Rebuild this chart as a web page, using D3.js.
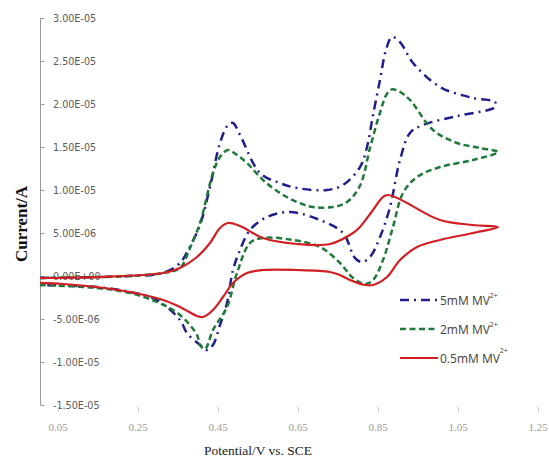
<!DOCTYPE html>
<html>
<head>
<meta charset="utf-8">
<script src="https://cdn.jsdelivr.net/npm/d3@7"></script>
<style>
  body { margin: 0; background: #fff; }
  svg { display: block; }
</style>
</head>
<body>
<svg id="chart"></svg>
<script>
// ----------------------------------------
//  Data  (potential in V, current in uA)
// ----------------------------------------

var xTicks = [0.05, 0.25, 0.45, 0.65, 0.85, 1.05, 1.25];
var yTicks = [30, 25, 20, 15, 10, 5, 0, -5, -10, -15];

var seriesNames = ["5mM MV", "2mM MV", "0.5mM MV"];

// 5mM: forward scan then return scan
var mv5 = [
  [0.005, -0.23], [0.1475, -0.12], [0.23, 0.0], [0.3125, 0.35], [0.355, 1.51],
  [0.375, 3.0], [0.405, 5.93], [0.43, 10.35], [0.455, 15.47], [0.475, 17.56],
  [0.4875, 17.79], [0.505, 16.4], [0.555, 11.98], [0.605, 10.8], [0.6475, 10.23],
  [0.7225, 10.0], [0.7625, 10.58], [0.805, 12.67], [0.8225, 15.0], [0.8375, 18.7],
  [0.855, 22.8], [0.87, 26.3], [0.885, 27.79], [0.905, 27.2], [0.9375, 24.77],
  [1.005, 21.98], [1.0875, 20.7], [1.1425, 20.23],
  [1.1425, 19.65], [1.0475, 18.6], [0.9625, 17.56], [0.93, 16.63], [0.905, 13.49],
  [0.88, 8.02], [0.855, 4.53], [0.83, 2.21], [0.81, 1.63], [0.7925, 2.09],
  [0.7625, 5.0], [0.705, 6.51], [0.63, 7.44], [0.5725, 6.86], [0.53, 5.35],
  [0.505, 3.02], [0.4875, 0.7], [0.4725, -3.14], [0.455, -5.7], [0.4375, -8.02],
  [0.4225, -8.6], [0.405, -8.02], [0.3725, -6.63], [0.355, -5.12], [0.2975, -2.79],
  [0.23, -1.86], [0.1475, -1.28], [0.005, -1.05]
];

var mv2 = [
  [0.005, -0.23], [0.1475, -0.12], [0.23, 0.0], [0.3125, 0.35], [0.355, 0.93],
  [0.38, 3.26], [0.405, 6.16], [0.4375, 11.98], [0.455, 13.84], [0.475, 14.65],
  [0.4975, 14.07], [0.5225, 13.14], [0.5625, 11.16], [0.605, 9.65], [0.6475, 8.6],
  [0.6875, 8.02], [0.7375, 8.02], [0.7725, 8.6], [0.805, 10.5], [0.83, 14.9],
  [0.855, 19.0], [0.8725, 21.2], [0.885, 21.7], [0.905, 21.4], [0.93, 20.47],
  [0.9875, 16.98], [1.0475, 15.47], [1.105, 14.88], [1.15, 14.42],
  [1.0875, 13.49], [1.005, 12.67], [0.9475, 11.51], [0.9125, 9.65], [0.8875, 5.7],
  [0.8625, 1.86], [0.8375, -0.47], [0.8175, -0.93], [0.7875, -0.23], [0.755, 1.51],
  [0.705, 3.37], [0.6375, 4.19], [0.5625, 4.42], [0.53, 3.84], [0.4975, 0.35],
  [0.4725, -3.6], [0.4375, -6.28], [0.4175, -8.49], [0.405, -8.02], [0.3975, -6.86],
  [0.355, -4.53], [0.2975, -3.02], [0.23, -1.98], [0.1475, -1.4], [0.005, -1.05]
];

var mv05 = [
  [0.005, -0.23], [0.1475, -0.12], [0.3125, 0.35], [0.355, 0.93], [0.3975, 2.21],
  [0.43, 3.84], [0.455, 5.58], [0.475, 6.16], [0.505, 5.81], [0.5625, 4.42],
  [0.6475, 3.72], [0.73, 3.72], [0.7875, 5.0], [0.805, 5.7], [0.8375, 7.67],
  [0.8625, 9.19], [0.875, 9.42], [0.8925, 9.19], [0.9225, 8.49], [1.005, 6.51],
  [1.0875, 5.93], [1.15, 5.7],
  [1.0875, 5.0], [1.005, 4.19], [0.9475, 3.37], [0.905, 1.86], [0.8725, -0.12],
  [0.8375, -1.05], [0.8175, -1.05], [0.78, -0.47], [0.755, 0.12], [0.73, 0.47],
  [0.6475, 0.7], [0.5625, 0.7], [0.5225, 0.35], [0.4875, -0.81], [0.4625, -2.44],
  [0.4375, -3.95], [0.4125, -4.77], [0.3975, -4.65], [0.355, -3.6], [0.3125, -2.79],
  [0.23, -1.86], [0.1475, -1.28], [0.0625, -0.93], [0.005, -0.81]
];

var seriesData = [mv5, mv2, mv05];
var seriesColors = ["#221f8c", "#1f7a3a", "#d21f24"];
var seriesDash = ["9,5,2,5", "6,3.5", null];
var seriesWidth = [2.5, 2.5, 2.2];

// ----------------------------------------
//  Sizing
// ----------------------------------------
var width = 549, height = 462;

var svg = d3.select("#chart")
  .attr("width", width)
  .attr("height", height);

var x = d3.scaleLinear().domain([0.05, 1.25]).range([58, 538]);
var y = d3.scaleLinear().domain([-15, 30]).range([405, 18]);

function sci(v) {
  var s = (v * 1e-6).toExponential(2).toUpperCase();
  return s.replace(/E([+-])(\d)$/, "E$10$2");
}

// y axis line + ticks (ticks point inside)
var axisX = 40.5;
svg.append("line")
  .attr("x1", axisX).attr("x2", axisX)
  .attr("y1", y(30)).attr("y2", y(-15))
  .attr("stroke", "#9a9a9a").attr("stroke-width", 1);

svg.selectAll(".ytick").data(yTicks).enter().append("line")
  .attr("x1", axisX).attr("x2", axisX + 4)
  .attr("y1", function(d) { return Math.round(y(d)) + 0.5; })
  .attr("y2", function(d) { return Math.round(y(d)) + 0.5; })
  .attr("stroke", "#9a9a9a");

svg.selectAll(".ylab").data(yTicks).enter().append("text")
  .attr("x", 53)
  .attr("y", function(d) { return y(d) + 3.5; })
  .attr("font-family", "DejaVu Sans, Verdana, sans-serif")
  .attr("font-size", "9.6px")
  .attr("fill", "#5a5a5a")
  .text(sci);

// x ticks (faint, no axis line)
svg.selectAll(".xtick").data(xTicks).enter().append("line")
  .attr("x1", function(d) { return Math.round(x(d)) + 0.5; })
  .attr("x2", function(d) { return Math.round(x(d)) + 0.5; })
  .attr("y1", 407).attr("y2", 412)
  .attr("stroke", "#c8c8c8");

svg.selectAll(".xlab").data(xTicks).enter().append("text")
  .attr("x", function(d) { return x(d); })
  .attr("y", 431)
  .attr("text-anchor", "middle")
  .attr("font-family", "Liberation Serif, serif")
  .attr("font-size", "11px")
  .attr("fill", "#9c9c9c")
  .text(function(d) { return d.toFixed(2); });

// titles
svg.append("text")
  .attr("x", 258).attr("y", 455)
  .attr("text-anchor", "middle")
  .attr("font-family", "Liberation Serif, serif")
  .attr("font-size", "13.5px")
  .attr("fill", "#1a1a1a")
  .text("Potential/V vs. SCE");

svg.append("text")
  .attr("transform", "translate(27,224) rotate(-90)")
  .attr("text-anchor", "middle")
  .attr("font-family", "Liberation Serif, serif")
  .attr("font-weight", "bold")
  .attr("font-size", "17px")
  .attr("fill", "#111")
  .text("Current/A");

// ----------------------------------------
//  Curves
// ----------------------------------------
var line = d3.line()
  .x(function(d) { return x(d[0]); })
  .y(function(d) { return y(d[1]); })
  .curve(d3.curveCatmullRom.alpha(0.5));

svg.selectAll(".cv").data(seriesData).enter().append("path")
  .attr("d", line)
  .attr("fill", "none")
  .attr("stroke", function(d, i) { return seriesColors[i]; })
  .attr("stroke-width", function(d, i) { return seriesWidth[i]; })
  .attr("stroke-dasharray", function(d, i) { return seriesDash[i]; })
  .attr("stroke-linejoin", "round");

// ----------------------------------------
//  Legend
// ----------------------------------------
var legY = [300, 329, 358];
var leg = svg.selectAll(".leg").data(seriesNames).enter().append("g")
  .attr("transform", function(d, i) { return "translate(400," + legY[i] + ")"; });

leg.append("line")
  .attr("x1", 0).attr("x2", 38)
  .attr("stroke", function(d, i) { return seriesColors[i]; })
  .attr("stroke-width", function(d, i) { return seriesWidth[i]; })
  .attr("stroke-dasharray", function(d, i) { return seriesDash[i]; });

var lt = leg.append("text")
  .attr("x", 40).attr("y", 4.5)
  .attr("font-family", "Open Sans, sans-serif")
  .attr("font-size", "12px")
  .attr("fill", "#404040");
lt.append("tspan").text(function(d) { return d; });
lt.append("tspan")
  .attr("dy", function(d, i) { return i == 2 ? -10 : -7; })
  .attr("font-size", "7px")
  .text("2+");
</script>
</body>
</html>
